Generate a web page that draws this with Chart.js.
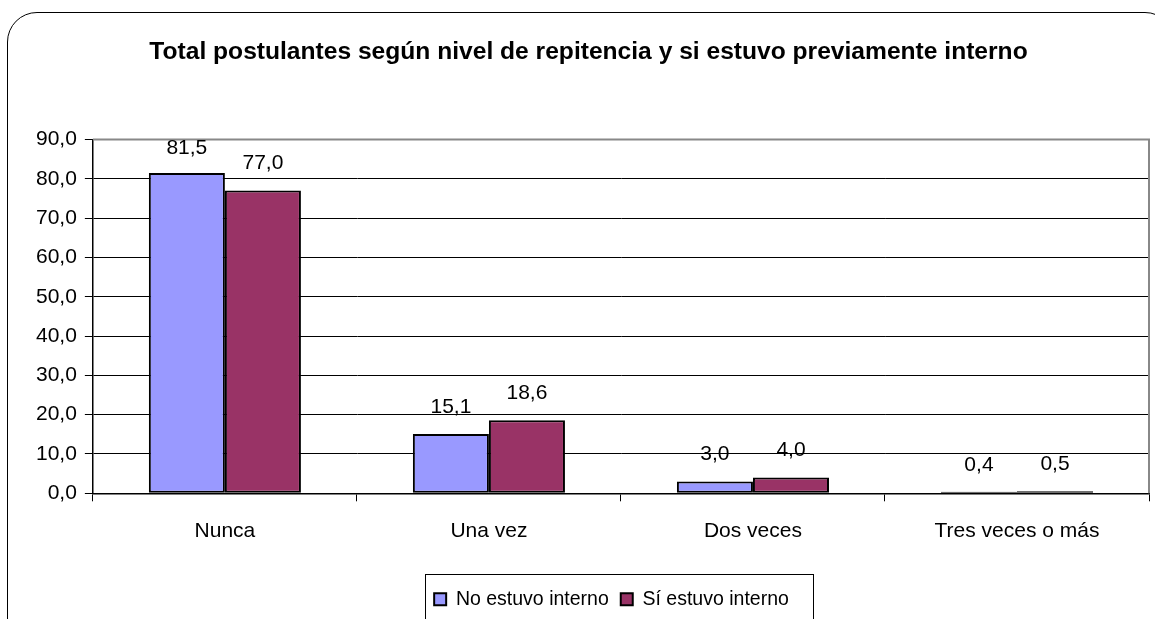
<!DOCTYPE html>
<html>
<head>
<meta charset="utf-8">
<script src="https://cdn.jsdelivr.net/npm/chart.js@4.4.1/dist/chart.umd.min.js"></script>
<style>
  html, body { margin: 0; padding: 0; background: #fff; overflow: hidden; }
  #wrap { position: relative; width: 1155px; height: 619px; }
  #frame {
    position: absolute; left: 7px; top: 12px; width: 1168px; height: 660px;
    border: 1.5px solid #000; border-radius: 30px; box-sizing: border-box;
  }
  canvas { position: absolute; left: 0; top: 0; }
</style>
</head>
<body>
<div id="wrap">
  <div id="frame"></div>
  <canvas id="graf" width="1155" height="619"></canvas>
</div>
<script>
// datos
const categorias = ['Nunca', 'Una vez', 'Dos veces', 'Tres veces o más'];
const noInterno = [81.5, 15.1, 3.0, 0.4];
const siInterno = [77.0, 18.6, 4.0, 0.5];
const ejeY = [0, 10, 20, 30, 40, 50, 60, 70, 80, 90];

const fuente = "'Liberation Sans', Arial, sans-serif";
const coma = v => v.toFixed(1).replace('.', ',');

// etiquetas sobre las barras, borde del área y caja de la leyenda
const extras = {
    id: 'extras',
    afterLayout(chart) {
        // la leyenda va un poco a la derecha, como en el original
        chart.legend.left += 23;
        chart.legend.right += 23;
    },
    afterDatasetsDraw(chart) {
        const c = chart.ctx;
        const area = chart.chartArea;
        c.save();
        c.strokeStyle = '#888';
        c.lineWidth = 2;
        c.beginPath();
        c.moveTo(area.left, area.top);
        c.lineTo(area.right, area.top);
        c.lineTo(area.right, area.bottom);
        c.stroke();
        c.font = '21px ' + fuente;
        c.fillStyle = '#000';
        c.textAlign = 'center';
        c.textBaseline = 'middle';
        chart.data.datasets.forEach((ds, i) => {
            chart.getDatasetMeta(i).data.forEach((bar, j) => {
                const y = Math.max(bar.y - 27, area.top + 9);
                c.fillText(coma(ds.data[j]), bar.x, y);
            });
        });
        c.restore();
    },
    afterDraw(chart) {
        const c = chart.ctx;
        c.save();
        c.strokeStyle = '#000';
        c.lineWidth = 1;
        c.strokeRect(425.5, 574.5, 388, 60);
        c.restore();
    }
};

new Chart(document.getElementById('graf'), {
    type: 'bar',
    data: {
        labels: categorias,
        datasets: [
            {
                label: 'No estuvo interno',
                data: noInterno,
                backgroundColor: '#9999FF',
                borderColor: '#000',
                borderWidth: 2,
                borderSkipped: false,
            },
            {
                label: 'Sí estuvo interno',
                data: siInterno,
                backgroundColor: '#993366',
                borderColor: '#000',
                borderWidth: 2,
                borderSkipped: false,
            }
        ]
    },
    options: {
        responsive: false,
        animation: false,
        layout: { padding: { left: 28, right: 6, top: 37, bottom: 0 } },
        datasets: { bar: { categoryPercentage: 0.576, barPercentage: 1 } },
        plugins: {
            title: {
                display: true,
                text: 'Total postulantes según nivel de repitencia y si estuvo previamente interno',
                color: '#000',
                font: { family: fuente, size: 24.6, weight: 'bold' },
                padding: { top: 0, bottom: 73 }
            },
            legend: {
                position: 'bottom',
                labels: {
                    color: '#000',
                    boxWidth: 12,
                    boxHeight: 12,
                    padding: 12,
                    font: { family: fuente, size: 19.5 }
                }
            },
            tooltip: { enabled: false }
        },
        scales: {
            x: {
                afterFit: s => { s.height += 17; },
                grid: { offset: true, drawOnChartArea: false, drawTicks: true, tickLength: 8, color: '#000' },
                border: { color: '#000', width: 1.5 },
                ticks: { color: '#000', padding: 17, font: { family: fuente, size: 21 } }
            },
            y: {
                min: 0,
                max: 90,
                afterBuildTicks: axis => { axis.ticks = ejeY.map(v => ({ value: v })); },
                grid: { color: '#000', tickLength: 8 },
                border: { color: '#000', width: 1.5 },
                ticks: {
                    color: '#000',
                    padding: 8,
                    font: { family: fuente, size: 21 },
                    callback: v => coma(v)
                }
            }
        }
    },
    plugins: [extras]
});
</script>
</body>
</html>
